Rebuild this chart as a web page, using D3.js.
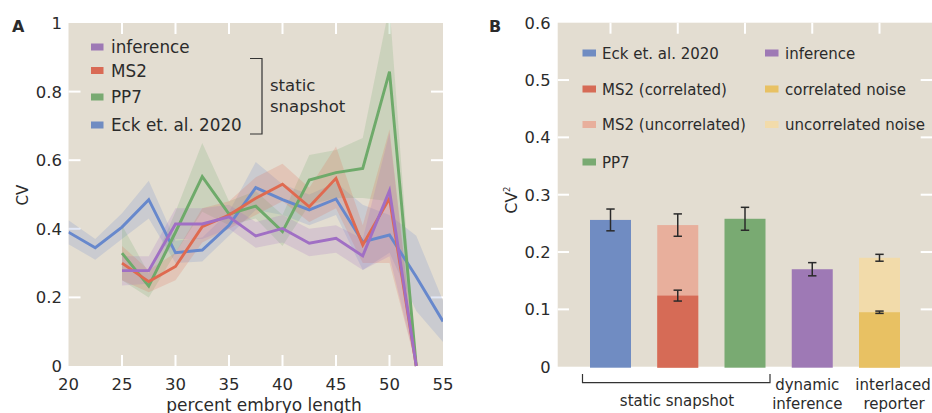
<!DOCTYPE html>
<html>
<head>
<meta charset="utf-8">
<script src="https://cdn.jsdelivr.net/npm/d3@7"></script>
<style>
  html, body { margin: 0; padding: 0; background: #ffffff; }
  svg { display: block; font-family: "DejaVu Sans", "Open Sans", sans-serif; }
  text { fill: #2b2b2b; }
</style>
</head>
<body>
<svg id="fig" width="932" height="413"></svg>
<script>
// ---------- Panel A: CV along the embryo ----------
const positions = [20, 22.5, 25, 27.5, 30, 32.5, 35, 37.5, 40, 42.5, 45, 47.5, 50, 52.5, 55];

const eckCV   = [0.39, 0.345, 0.405, 0.485, 0.33, 0.338, 0.41, 0.52, 0.485, 0.455, 0.487, 0.362, 0.382, 0.26, 0.13];
const eckLo   = [0.355, 0.31, 0.37, 0.43, 0.30, 0.305, 0.38, 0.455, 0.44, 0.41, 0.44, 0.28, 0.33, 0.16, 0.07];
const eckHi   = [0.425, 0.37, 0.445, 0.54, 0.365, 0.375, 0.45, 0.595, 0.53, 0.50, 0.535, 0.47, 0.44, 0.38, 0.19];

const ms2CV   = [null, null, 0.30, 0.246, 0.29, 0.406, 0.44, 0.489, 0.53, 0.464, 0.547, 0.353, 0.489, 0, null];
const ms2Lo   = [null, null, 0.25, 0.215, 0.25, 0.36, 0.40, 0.44, 0.48, 0.42, 0.46, 0.30, 0.30, 0, null];
const ms2Hi   = [null, null, 0.35, 0.28, 0.33, 0.46, 0.48, 0.55, 0.59, 0.52, 0.64, 0.41, 0.69, 0, null];

const pp7CV   = [null, null, 0.329, 0.233, 0.39, 0.552, 0.443, 0.466, 0.392, 0.542, 0.564, 0.576, 0.858, 0, null];
const pp7Lo   = [null, null, 0.25, 0.20, 0.33, 0.45, 0.41, 0.43, 0.35, 0.47, 0.49, 0.49, 0.48, 0, null];
const pp7Hi   = [null, null, 0.41, 0.27, 0.45, 0.65, 0.48, 0.51, 0.44, 0.615, 0.63, 0.665, 1.05, 0, null];

const infCV   = [null, null, 0.278, 0.278, 0.414, 0.414, 0.435, 0.379, 0.401, 0.358, 0.372, 0.321, 0.511, 0, null];
const infLo   = [null, null, 0.235, 0.24, 0.37, 0.37, 0.40, 0.345, 0.36, 0.32, 0.33, 0.28, 0.32, 0, null];
const infHi   = [null, null, 0.32, 0.32, 0.46, 0.46, 0.47, 0.42, 0.44, 0.40, 0.41, 0.37, 0.68, 0, null];

const xTicksA = [20, 25, 30, 35, 40, 45, 50, 55];
const yTicksA = [0, 0.2, 0.4, 0.6, 0.8, 1];
const legendA = ["inference", "MS2", "PP7", "Eck et. al. 2020"];

// ---------- Panel B: CV² by method ----------
const barKeys     = ["eck", "ms2", "pp7", "inference", "interlaced"];
const barTotal    = [0.256, 0.247, 0.258, 0.170, 0.190];
const barTotalErr = [0.019, 0.0195, 0.020, 0.0115, 0.006];
const barInner    = [null, 0.124, null, null, 0.095];
const barInnerErr = [null, 0.0095, null, null, 0.002];
const yTicksB = [0, 0.1, 0.2, 0.3, 0.4, 0.5, 0.6];
const legendB1 = ["Eck et. al. 2020", "MS2 (correlated)", "MS2 (uncorrelated)", "PP7"];
const legendB2 = ["inference", "correlated noise", "uncorrelated noise"];

// ---------- styling ----------
const BG = "#e3ddd1";
const lineCol = { eck: "#6788cc", ms2: "#df6a50", pp7: "#6eaa6a", inf: "#a06fc4" };
const barOuterCol = ["#708cc2", "#e8af9c", "#79aa72", "#9e79b5", "#f2dbaa"];
const barInnerCol = [null, "#d66b56", null, null, "#e8c163"];
const legB1Col = ["#708cc2", "#d66b56", "#e8af9c", "#79aa72"];
const legB2Col = ["#9e79b5", "#e8c163", "#f2dbaa"];
const legACol = ["#9e79b5", "#d96a55", "#79aa72", "#708cc2"];

const svg = d3.select("#fig");
const fmt = d => d === 0 ? "0" : d === 1 ? "1" : d3.format(".1f")(d);

// ===== Panel A =====
const xA = d3.scaleLinear().domain([20, 55]).range([68.5, 443]);
const yA = d3.scaleLinear().domain([0, 1]).range([366, 23]);
const gA = svg.append("g");

gA.append("rect")
  .attr("x", xA(20)).attr("y", yA(1))
  .attr("width", xA(55) - xA(20)).attr("height", yA(0) - yA(1))
  .attr("fill", BG);

svg.append("clipPath").attr("id", "clipA")
  .append("rect")
  .attr("x", xA(20)).attr("y", yA(1))
  .attr("width", xA(55) - xA(20)).attr("height", yA(0) - yA(1) + 2);

// inner white ticks on all four sides
const innerTicksX = xTicksA.filter(t => t > 20 && t < 55);
const innerTicksY = yTicksA.filter(t => t > 0 && t < 1);
const tickLen = 11;
gA.selectAll(".tb").data(innerTicksX).join("line")
  .attr("x1", d => xA(d)).attr("x2", d => xA(d))
  .attr("y1", yA(0)).attr("y2", yA(0) - tickLen)
  .attr("stroke", "#fff").attr("stroke-width", 2);
gA.selectAll(".tt").data(innerTicksX).join("line")
  .attr("x1", d => xA(d)).attr("x2", d => xA(d))
  .attr("y1", yA(1)).attr("y2", yA(1) + tickLen)
  .attr("stroke", "#fff").attr("stroke-width", 2);
gA.selectAll(".tl").data(innerTicksY).join("line")
  .attr("x1", xA(20)).attr("x2", xA(20) + tickLen + 1)
  .attr("y1", d => yA(d)).attr("y2", d => yA(d))
  .attr("stroke", "#fff").attr("stroke-width", 2);
gA.selectAll(".tr").data(innerTicksY).join("line")
  .attr("x1", xA(55)).attr("x2", xA(55) - tickLen - 1)
  .attr("y1", d => yA(d)).attr("y2", d => yA(d))
  .attr("stroke", "#fff").attr("stroke-width", 2);

// bands and lines
const seriesA = [
  { key: "eck", v: eckCV, lo: eckLo, hi: eckHi },
  { key: "pp7", v: pp7CV, lo: pp7Lo, hi: pp7Hi },
  { key: "ms2", v: ms2CV, lo: ms2Lo, hi: ms2Hi },
  { key: "inf", v: infCV, lo: infLo, hi: infHi }
];
const plotA = gA.append("g").attr("clip-path", "url(#clipA)");
const area = d3.area()
  .defined(d => d.lo != null)
  .x(d => xA(d.x)).y0(d => yA(d.lo)).y1(d => yA(d.hi));
const line = d3.line()
  .defined(d => d.v != null)
  .x(d => xA(d.x)).y(d => yA(d.v));

seriesA.forEach(s => {
  const pts = positions.map((x, i) => ({ x, v: s.v[i], lo: s.lo[i], hi: s.hi[i] }));
  plotA.append("path").datum(pts)
    .attr("d", area).attr("fill", lineCol[s.key]).attr("fill-opacity", 0.2);
});
seriesA.forEach(s => {
  const pts = positions.map((x, i) => ({ x, v: s.v[i] }));
  plotA.append("path").datum(pts)
    .attr("d", line).attr("fill", "none")
    .attr("stroke", lineCol[s.key]).attr("stroke-width", 2.9)
    .attr("stroke-linejoin", "miter");
});

// tick labels
gA.selectAll(".xl").data(xTicksA).join("text")
  .attr("x", d => xA(d)).attr("y", 389.5)
  .attr("text-anchor", "middle").attr("font-size", 16.5)
  .text(d => d);
gA.selectAll(".yl").data(yTicksA).join("text")
  .attr("x", 62).attr("y", d => yA(d) + 6)
  .attr("text-anchor", "end").attr("font-size", 16.5)
  .text(fmt);

gA.append("text").attr("x", 264).attr("y", 410.5)
  .attr("text-anchor", "middle").attr("font-size", 17)
  .text("percent embryo length");
gA.append("text")
  .attr("transform", "translate(28,195) rotate(-90)")
  .attr("text-anchor", "middle").attr("font-size", 15)
  .text("CV");
gA.append("text").attr("x", 12).attr("y", 32)
  .attr("font-size", 16).attr("font-weight", "bold").text("A");

// legend A
const legARowY = [47, 70.5, 97, 125];
legendA.forEach((name, i) => {
  gA.append("rect").attr("x", 91).attr("y", legARowY[i] - 3.5)
    .attr("width", 12.5).attr("height", 7).attr("fill", legACol[i]);
  gA.append("text").attr("x", 111).attr("y", legARowY[i] + 6)
    .attr("font-size", 16.8).text(name);
});
gA.append("path")
  .attr("d", "M250,58.5 H262 V134 H250")
  .attr("fill", "none").attr("stroke", "#333").attr("stroke-width", 1.2);
gA.append("text").attr("x", 270).attr("y", 91).attr("font-size", 16.5).text("static");
gA.append("text").attr("x", 270).attr("y", 112).attr("font-size", 16.5).text("snapshot");

// ===== Panel B =====
const xB = d3.scalePoint().domain(barKeys).range([610.5, 879.5]);
const barW = 41;
const yB = d3.scaleLinear().domain([0, 0.6]).range([366.7, 22.7]);
const gB = svg.append("g");

gB.append("rect")
  .attr("x", 557.7).attr("y", yB(0.6))
  .attr("width", 932 - 557.7).attr("height", yB(0) - yB(0.6))
  .attr("fill", BG);

const innerTicksB = yTicksB.filter(t => t > 0 && t < 0.6);
gB.selectAll(".bt").data(barKeys).join("line")
  .attr("x1", d => xB(d)).attr("x2", d => xB(d))
  .attr("y1", yB(0.6)).attr("y2", yB(0.6) + tickLen)
  .attr("stroke", "#fff").attr("stroke-width", 2);
gB.selectAll(".bl").data(innerTicksB).join("line")
  .attr("x1", 557.7).attr("x2", 569)
  .attr("y1", d => yB(d)).attr("y2", d => yB(d))
  .attr("stroke", "#fff").attr("stroke-width", 2);
gB.selectAll(".br").data(innerTicksB).join("line")
  .attr("x1", 932).attr("x2", 920.7)
  .attr("y1", d => yB(d)).attr("y2", d => yB(d))
  .attr("stroke", "#fff").attr("stroke-width", 2);

// bars
barKeys.forEach((k, i) => {
  const cx = xB(k);
  gB.append("rect").attr("x", cx - barW / 2).attr("y", yB(barTotal[i]))
    .attr("width", barW).attr("height", yB(0) - yB(barTotal[i]) + 1)
    .attr("fill", barOuterCol[i]);
  if (barInner[i] != null) {
    gB.append("rect").attr("x", cx - barW / 2).attr("y", yB(barInner[i]))
      .attr("width", barW).attr("height", yB(0) - yB(barInner[i]) + 1)
      .attr("fill", barInnerCol[i]);
  }
});

// error bars
function errBar(cx, v, e) {
  const g = gB.append("g").attr("stroke", "#2a2a2a").attr("stroke-width", 1.5);
  g.append("line").attr("x1", cx).attr("x2", cx).attr("y1", yB(v - e)).attr("y2", yB(v + e));
  g.append("line").attr("x1", cx - 4.2).attr("x2", cx + 4.2).attr("y1", yB(v - e)).attr("y2", yB(v - e));
  g.append("line").attr("x1", cx - 4.2).attr("x2", cx + 4.2).attr("y1", yB(v + e)).attr("y2", yB(v + e));
}
barKeys.forEach((k, i) => {
  errBar(xB(k), barTotal[i], barTotalErr[i]);
  if (barInner[i] != null) errBar(xB(k), barInner[i], barInnerErr[i]);
});

// y tick labels
gB.selectAll(".ybl").data(yTicksB).join("text")
  .attr("x", 550.5).attr("y", d => yB(d) + 6)
  .attr("text-anchor", "end").attr("font-size", 16.3)
  .text(d => d === 0 ? "0" : d3.format(".1f")(d));

const cvLabel = gB.append("text")
  .attr("transform", "translate(517,200) rotate(-90)")
  .attr("text-anchor", "middle").attr("font-size", 15.5);
cvLabel.append("tspan").text("CV");
cvLabel.append("tspan").attr("font-size", 8.5).attr("dy", -7).text("2");

gB.append("text").attr("x", 489).attr("y", 32)
  .attr("font-size", 16).attr("font-weight", "bold").text("B");

// legend B
const legBRowY = [53, 89, 124.5, 162];
legendB1.forEach((name, i) => {
  gB.append("rect").attr("x", 582.5).attr("y", legBRowY[i] - 3.5)
    .attr("width", 13.5).attr("height", 7).attr("fill", legB1Col[i]);
  gB.append("text").attr("x", 602).attr("y", legBRowY[i] + 5.5)
    .attr("font-size", 15).text(name);
});
legendB2.forEach((name, i) => {
  gB.append("rect").attr("x", 765).attr("y", legBRowY[i] - 3.5)
    .attr("width", 13.5).attr("height", 7).attr("fill", legB2Col[i]);
  gB.append("text").attr("x", 785).attr("y", legBRowY[i] + 5.5)
    .attr("font-size", 15).text(name);
});

// category labels under the bars
gB.append("path")
  .attr("d", "M582.5,374 V382.7 H770 V374")
  .attr("fill", "none").attr("stroke", "#333").attr("stroke-width", 1.2);
gB.append("text").attr("x", 677).attr("y", 405.5)
  .attr("text-anchor", "middle").attr("font-size", 15).text("static snapshot");
gB.append("text").attr("x", xB("inference") - 5).attr("y", 390)
  .attr("text-anchor", "middle").attr("font-size", 15).text("dynamic");
gB.append("text").attr("x", xB("inference") - 5).attr("y", 408.5)
  .attr("text-anchor", "middle").attr("font-size", 15).text("inference");
gB.append("text").attr("x", xB("interlaced") + 13.5).attr("y", 390)
  .attr("text-anchor", "middle").attr("font-size", 15).text("interlaced");
gB.append("text").attr("x", xB("interlaced") + 14.5).attr("y", 408.5)
  .attr("text-anchor", "middle").attr("font-size", 15).text("reporter");
</script>
</body>
</html>
